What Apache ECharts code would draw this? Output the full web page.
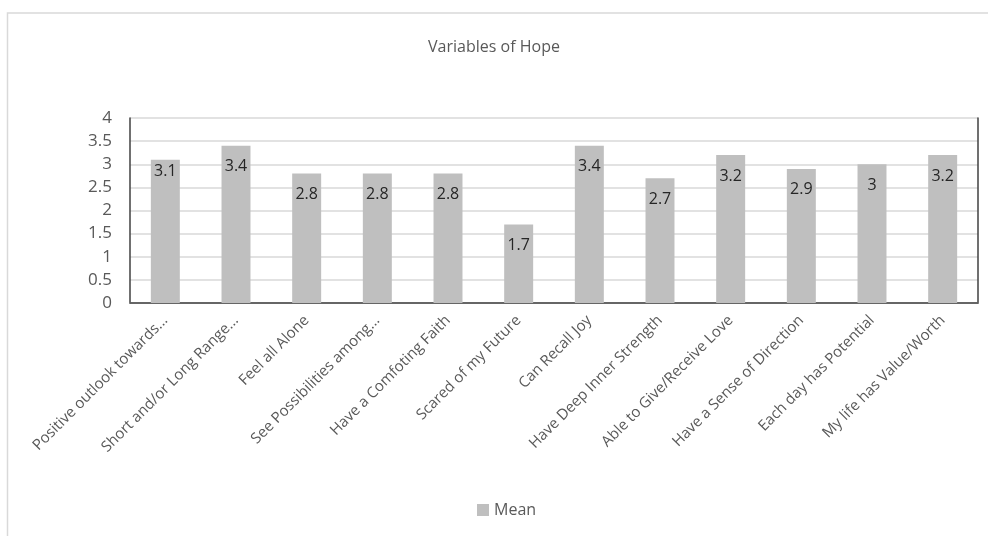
<!DOCTYPE html>
<html>
<head>
<meta charset="utf-8">
<script src="https://cdn.jsdelivr.net/npm/echarts@6/dist/echarts.min.js"></script>
<style>
  html, body { margin: 0; padding: 0; background: #fff; }
  #chart { width: 988px; height: 536px; }
</style>
</head>
<body>
<div id="chart"></div>
<script>
// Hope survey: mean score per item
const categories = [
  'Positive outlook towards...',
  'Short and/or Long Range...',
  'Feel all Alone',
  'See Possibilities among...',
  'Have a Comfoting Faith',
  'Scared of my Future',
  'Can Recall Joy',
  'Have Deep Inner Strength',
  'Able to Give/Receive Love',
  'Have a Sense of Direction',
  'Each day has Potential',
  'My life has Value/Worth'
];
const meanValues = [3.1, 3.4, 2.8, 2.8, 2.8, 1.7, 3.4, 2.7, 3.2, 2.9, 3, 3.2];
const yTicks = [0, 0.5, 1, 1.5, 2, 2.5, 3, 3.5, 4];

const FONT = '"Open Sans", "Liberation Sans", sans-serif';
const chart = echarts.init(document.getElementById('chart'));

const option = {
  animation: false,
  backgroundColor: '#ffffff',
  title: {
    text: 'Variables of Hope',
    left: 'center',
    top: 34,
    textStyle: { fontFamily: FONT, fontSize: 16, fontWeight: 'normal', color: '#595959' }
  },
  legend: {
    data: ['Mean'],
    bottom: 13,
    left: 472,
    itemWidth: 12,
    itemHeight: 12,
    itemGap: 6,
    icon: 'rect',
    textStyle: { fontFamily: FONT, fontSize: 16, color: '#595959' }
  },
  grid: { left: 130, right: 10, top: 118, bottom: 233 },
  xAxis: [{
    type: 'category',
    data: categories,
    axisLine: { show: true, lineStyle: { color: '#d9d9d9', width: 1.5 } },
    axisTick: { show: false },
    axisLabel: {
      interval: 0,
      rotate: 45,
      margin: 15,
      fontFamily: FONT,
      fontSize: 15,
      color: '#595959'
    }
  }, {
    type: 'category',
    position: 'top',
    data: categories,
    axisLine: { show: true, lineStyle: { color: '#404040', width: 1.5 } },
    axisTick: { show: false },
    axisLabel: { show: false }
  }],
  yAxis: [{
    type: 'value',
    min: yTicks[0],
    max: yTicks[yTicks.length - 1],
    interval: 0.5,
    axisLine: { show: true, lineStyle: { color: '#404040', width: 1.5 } },
    axisTick: { show: false },
    axisLabel: {
      margin: 18,
      fontFamily: FONT,
      fontSize: 17,
      color: '#595959',
      formatter: v => String(v)
    },
    splitLine: { show: true, lineStyle: { color: '#d9d9d9', width: 1.5 } }
  }, {
    type: 'value',
    position: 'right',
    min: yTicks[0],
    max: yTicks[yTicks.length - 1],
    interval: 0.5,
    axisLine: { show: true, lineStyle: { color: '#404040', width: 1.5 } },
    axisTick: { show: false },
    axisLabel: { show: false },
    splitLine: { show: false }
  }],
  graphic: [{
    type: 'polyline',
    silent: true,
    shape: { points: [[7.5, 540], [7.5, 13], [992, 13]] },
    style: { stroke: '#d9d9d9', lineWidth: 1.5, fill: null }
  }],
  series: [{
    name: 'Mean',
    type: 'bar',
    barWidth: '41%',
    itemStyle: { color: '#bfbfbf' },
    label: {
      show: true,
      position: 'insideTop',
      distance: 13,
      fontFamily: FONT,
      fontSize: 16,
      color: '#262626'
    },
    data: meanValues.map((v, i) => i === 0 ? { value: v, label: { distance: 4 } } : v)
  }]
};

chart.setOption(option);
</script>
</body>
</html>
